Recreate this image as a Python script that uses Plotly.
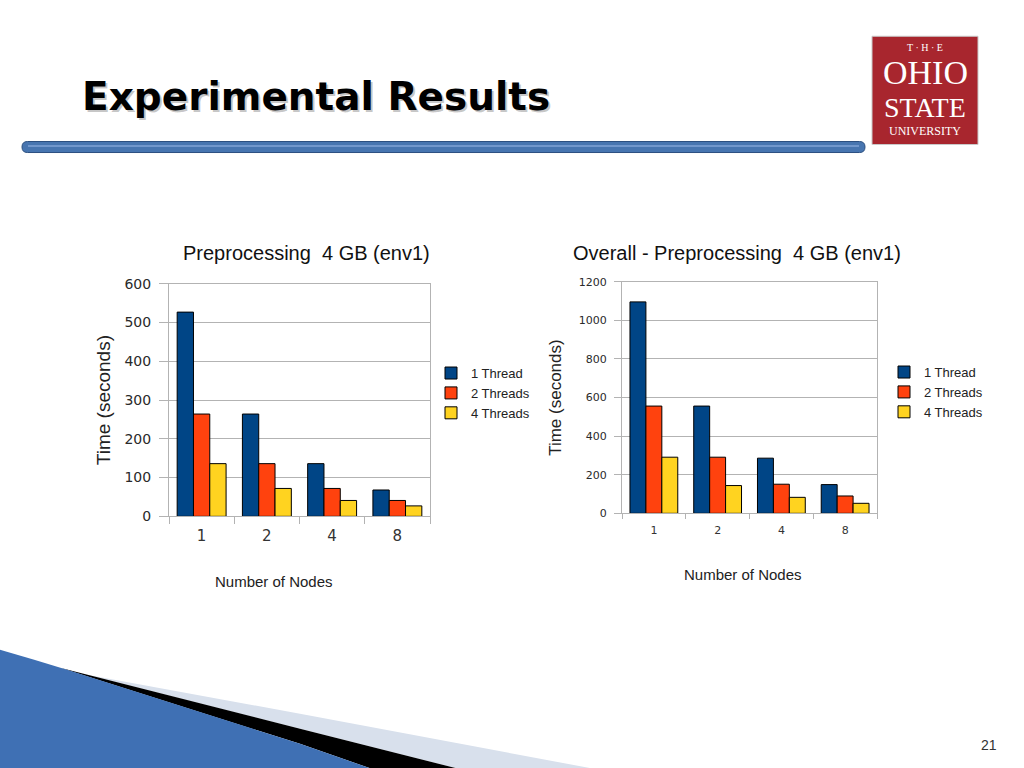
import plotly.graph_objects as go

# ---------------- data ----------------
nodes = ["1", "2", "4", "8"]
series_names = ["1 Thread", "2 Threads", "4 Threads"]

pre_1thread = [527, 264, 136, 68]
pre_2threads = [264, 136, 72, 41]
pre_4threads = [136, 72, 41, 27]

overall_1thread = [1096, 556, 286, 149]
overall_2threads = [556, 291, 151, 90]
overall_4threads = [291, 144, 83, 52]

bar_colors = ["#004586", "#ff420e", "#ffd320"]

W, H = 1024, 768
# the captured page shows the figure between these picture rows
TOP_OFF, VIS_H = 7.8, 750.3


def px(x):
    return x / W


def py(y):
    return 1 - (y - TOP_OFF) / VIS_H


def path(cmds):
    out = []
    for c in cmds:
        op = c[0]
        pts = c[1:]
        s = op + " ".join(f"{px(a):.5f},{py(b):.5f}" for a, b in pts)
        out.append(s)
    return " ".join(out) + " Z"


fig = go.Figure()

left_vals = [pre_1thread, pre_2threads, pre_4threads]
right_vals = [overall_1thread, overall_2threads, overall_4threads]

for name, vals, col in zip(series_names, left_vals, bar_colors):
    fig.add_trace(go.Bar(x=nodes, y=vals, name=name, marker=dict(color=col, line=dict(color="#000000", width=1)),
                         xaxis="x", yaxis="y", legend="legend"))
for name, vals, col in zip(series_names, right_vals, bar_colors):
    fig.add_trace(go.Bar(x=nodes, y=vals, name=name, marker=dict(color=col, line=dict(color="#000000", width=1)),
                         xaxis="x2", yaxis="y2", legend="legend2"))

grid = "#b3b3b3"
sans = "Liberation Sans"

axis_common = dict(showline=True, linecolor=grid, linewidth=1, mirror=True,
                   ticks="outside", tickcolor=grid, fixedrange=True)

fig.update_layout(
    width=W, height=H, autosize=False,
    margin=dict(l=0, r=0, t=0, b=0),
    paper_bgcolor="white", plot_bgcolor="white",
    barmode="group", bargap=0.25, bargroupgap=0,
    xaxis=dict(domain=[px(169), px(430)], anchor="y", tickson="boundaries", ticklen=7, showgrid=False,
               tickfont=dict(family="DejaVu Sans", size=15, color="#333333"), ticklabelstandoff=6,
               **axis_common),
    yaxis=dict(domain=[py(515), py(283)], anchor="x", range=[0, 600], dtick=100, ticklen=9,
               showgrid=True, gridcolor=grid, gridwidth=1, zeroline=False,
               tickfont=dict(family="DejaVu Sans", size=14, color="#2a2a2a"), ticklabelstandoff=5,
               title=dict(text="Time (seconds)", font=dict(family=sans, size=19, color="#222222"), standoff=8),
               **axis_common),
    xaxis2=dict(domain=[px(622), px(877)], anchor="y2", tickson="boundaries", ticklen=5, showgrid=False,
                tickfont=dict(family="DejaVu Sans", size=11, color="#333333"), ticklabelstandoff=6,
                **axis_common),
    yaxis2=dict(domain=[py(512), py(281)], anchor="x2", range=[0, 1200], dtick=200, ticklen=7,
                showgrid=True, gridcolor=grid, gridwidth=1, zeroline=False,
                tickfont=dict(family="DejaVu Sans", size=11, color="#2a2a2a"), ticklabelstandoff=5,
                title=dict(text="Time (seconds)", font=dict(family=sans, size=17, color="#222222"), standoff=12),
                **axis_common),
    legend=dict(x=px(431), y=py(392), xanchor="left", yanchor="middle", bgcolor="rgba(0,0,0,0)",
                font=dict(family=sans, size=13, color="#222222"), tracegroupgap=0, itemwidth=30),
    legend2=dict(x=px(884), y=py(391), xanchor="left", yanchor="middle", bgcolor="rgba(0,0,0,0)",
                 font=dict(family=sans, size=13, color="#222222"), tracegroupgap=0, itemwidth=30),
    showlegend=True,
)

# ---------------- text annotations ----------------
ann = []
# slide title with soft shadow
ann.append(dict(text="<b>Experimental Results</b>", x=px(80), y=py(96), xref="paper", yref="paper",
                xanchor="left", yanchor="middle", showarrow=False,
                font=dict(family="DejaVu Sans", size=39, color="rgba(0,0,0,0.22)"), xshift=2, yshift=-2))
ann.append(dict(text="<b>Experimental Results</b>", x=px(80), y=py(96), xref="paper", yref="paper",
                xanchor="left", yanchor="middle", showarrow=False,
                font=dict(family="DejaVu Sans", size=39, color="#000000")))
# chart titles
ann.append(dict(text="Preprocessing  4 GB (env1)", x=px(306), y=py(252), xref="paper", yref="paper",
                xanchor="center", yanchor="middle", showarrow=False,
                font=dict(family=sans, size=20, color="#111111")))
ann.append(dict(text="Overall - Preprocessing  4 GB (env1)", x=px(737), y=py(252), xref="paper", yref="paper",
                xanchor="center", yanchor="middle", showarrow=False,
                font=dict(family=sans, size=20, color="#111111")))
# x-axis titles
ann.append(dict(text="Number of Nodes", x=px(274), y=py(580), xref="paper", yref="paper",
                xanchor="center", yanchor="middle", showarrow=False,
                font=dict(family=sans, size=15, color="#222222")))
ann.append(dict(text="Number of Nodes", x=px(743), y=py(573), xref="paper", yref="paper",
                xanchor="center", yanchor="middle", showarrow=False,
                font=dict(family=sans, size=15, color="#222222")))
# page number
ann.append(dict(text="21", x=px(989), y=py(743), xref="paper", yref="paper",
                xanchor="center", yanchor="middle", showarrow=False,
                font=dict(family=sans, size=14, color="#333333")))
# logo texts (sized so their boxes do not overlap)
serif = "Liberation Serif"
ann.append(dict(text="T \u00b7 H \u00b7 E", x=px(925), y=py(47), xref="paper", yref="paper",
                xanchor="center", yanchor="middle", showarrow=False,
                font=dict(family=serif, size=10, color="white")))
ann.append(dict(text="OHIO", x=px(925), y=py(72), xref="paper", yref="paper",
                xanchor="center", yanchor="middle", showarrow=False,
                font=dict(family=serif, size=34, color="white")))
ann.append(dict(text="STATE", x=px(925), y=py(107), xref="paper", yref="paper",
                xanchor="center", yanchor="middle", showarrow=False,
                font=dict(family=serif, size=28, color="white")))
ann.append(dict(text="UNIVERSITY", x=px(925), y=py(131), xref="paper", yref="paper",
                xanchor="center", yanchor="middle", showarrow=False,
                font=dict(family=serif, size=12, color="white")))
fig.update_layout(annotations=ann)

# ---------------- decorative shapes ----------------
shapes = []
# title underline bar (rounded)
x0, x1, y0, y1, r = 22, 865, 141, 152, 5.5
bar_path = path([
    ("M", (x0 + r, y0)), ("L", (x1 - r, y0)), ("Q", (x1, y0), (x1, y0 + r)),
    ("L", (x1, y1 - r)), ("Q", (x1, y1), (x1 - r, y1)), ("L", (x0 + r, y1)),
    ("Q", (x0, y1), (x0, y1 - r)), ("L", (x0, y0 + r)), ("Q", (x0, y0), (x0 + r, y0)),
])
shapes.append(dict(type="path", path=bar_path, xref="paper", yref="paper",
                   fillcolor="#4775b0", line=dict(color="#2b4f80", width=1), layer="below"))
shapes.append(dict(type="line", x0=px(28), x1=px(859), y0=py(145.5), y1=py(145.5), xref="paper", yref="paper",
                   line=dict(color="#7fa3d6", width=1.5), layer="below"))
# logo background
shapes.append(dict(type="rect", x0=px(872), x1=px(978), y0=py(36), y1=py(144), xref="paper", yref="paper",
                   fillcolor="#a8262e", line=dict(color="#c9c9c9", width=1), layer="below"))
# bottom-left swoosh: light band, black band, blue wedge
shapes.append(dict(type="path", xref="paper", yref="paper", layer="below",
                   path=path([("M", (87, 673)), ("L", (300, 712)), ("L", (600, 768)), ("L", (463, 768)),
                              ("L", (300, 727))]),
                   fillcolor="#d8e0ec", line=dict(width=0)))
shapes.append(dict(type="path", xref="paper", yref="paper", layer="below",
                   path=path([("M", (60, 666)), ("L", (300, 727)), ("L", (463, 768)), ("L", (375, 768)),
                              ("L", (300, 742))]),
                   fillcolor="#000000", line=dict(width=0)))
shapes.append(dict(type="path", xref="paper", yref="paper", layer="below",
                   path=path([("M", (0, 648)), ("Q", (35, 658), (67, 668)), ("L", (300, 742)), ("L", (375, 768)),
                              ("L", (0, 768))]),
                   fillcolor="#3f70b4", line=dict(width=0)))
fig.update_layout(shapes=shapes)

fig.write_html("out.html", config={"displayModeBar": False},
               post_script=("document.documentElement.style.margin='0';"
                            "document.documentElement.style.padding='0';"
                            "document.body.style.margin='0';document.body.style.padding='0';"
                            "document.documentElement.style.overflow='hidden';"
                            "document.body.style.overflow='hidden';"))
